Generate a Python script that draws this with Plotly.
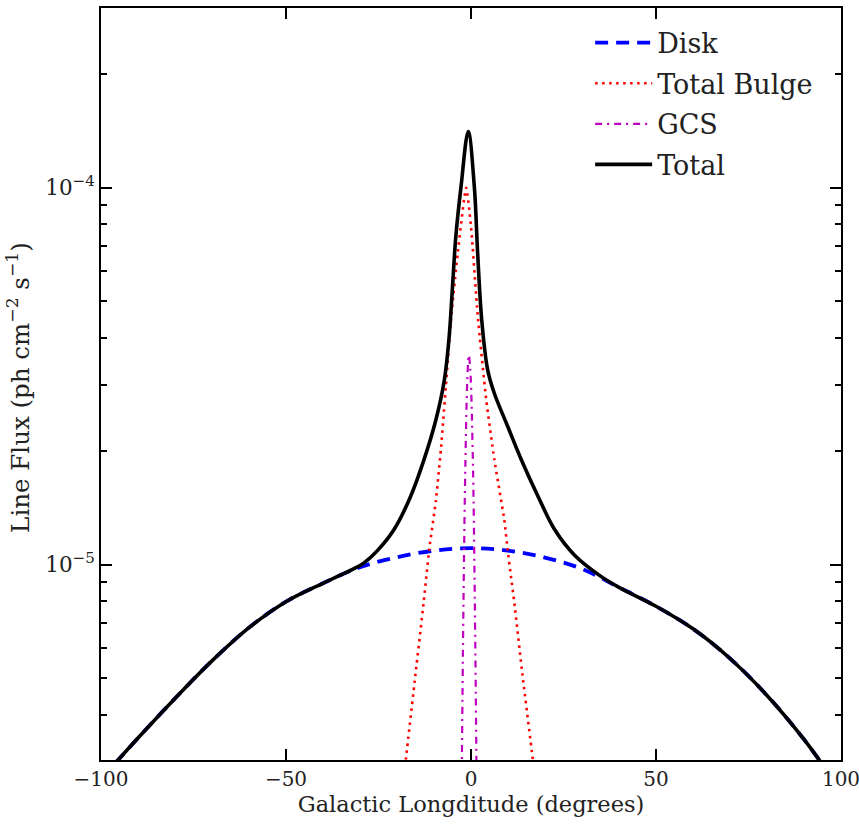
import plotly.graph_objects as go

# ---- data ----
disk_lon = [-100, -90, -80, -70, -60, -50, -40, -30, -20, -10, 0, 10, 20, 30, 40, 50, 60, 70, 80, 90, 100]
disk_flux = [2.70e-6, 3.47e-6, 4.42e-6, 5.56e-6, 6.81e-6, 7.98e-6, 8.93e-6, 9.85e-6, 1.047e-5, 1.09e-5,
             1.107e-5, 1.09e-5, 1.045e-5, 9.75e-6, 8.71e-6, 7.76e-6, 6.76e-6, 5.64e-6, 4.50e-6, 3.44e-6,
             2.51e-6]

bulge_lon = [-20, -17.6, -15.0, -12.8, -11.3, -9.5, -8.1, -6.8, -5.4, -3.6, -1.3, 0.0, 1.8, 4.1, 6.3,
             9.0, 9.9, 10.8, 11.7, 14.0, 16.7, 19.0]
bulge_flux = [1.905e-6, 3.05e-6, 5.13e-6, 7.94e-6, 1.096e-5, 1.48e-5, 2.04e-5, 2.97e-5, 4.46e-5, 6.70e-5,
              1.0e-4, 7.9e-5, 4.6e-5, 2.75e-5, 1.905e-5, 1.315e-5, 1.096e-5, 9.31e-6, 7.94e-6, 5.01e-6,
              3.05e-6, 1.905e-6]

gcs_lon = [-3.5, -3.0, -2.5, -2.0, -1.5, -1.0, -0.6, -0.2, 0.5, 1.0, 1.5, 2.0, 2.5]
gcs_flux = [1.1e-7, 6.5e-7, 2.75e-6, 8.5e-6, 1.9e-5, 3.09e-5, 3.6e-5, 3.3e-5, 1.9e-5, 8.5e-6,
            2.75e-6, 6.5e-7, 1.1e-7]

total_lon = [-100, -90, -80, -70, -60, -50, -40, -35, -32, -29.0, -25.3, -20.8, -16.3, -12.7, -9.5,
             -7.2, -5.9, -5.0, -4.1, -2.7, -0.75, 0.9, 1.8, 2.9, 4.5, 6.3, 9.9, 13.6, 18.1, 22.6, 28.0,
             35.2, 40, 50, 60, 70, 80, 90, 100]
total_flux = [2.70e-6, 3.47e-6, 4.42e-6, 5.56e-6, 6.81e-6, 7.98e-6, 8.93e-6, 9.42e-6, 9.72e-6, 1.01e-5,
              1.09e-5, 1.24e-5, 1.52e-5, 1.90e-5, 2.42e-5, 3.09e-5, 4.03e-5, 5.47e-5, 7.42e-5,
              1.006e-4, 1.41e-4, 1.006e-4, 6.7e-5, 4.46e-5, 3.29e-5, 2.85e-5, 2.33e-5, 1.90e-5, 1.52e-5,
              1.24e-5, 1.06e-5, 9.3e-6, 8.71e-6, 7.76e-6, 6.76e-6, 5.64e-6, 4.50e-6, 3.44e-6, 2.51e-6]

x_ticks = [-100, -50, 0, 50, 100]
x_tick_text = ["\u2212100", "\u221250", "0", "50", "100"]
y_ticks = [1e-5, 1e-4]
y_tick_text = ["10<sup>\u22125</sup>", "10<sup>\u22124</sup>"]
y_minor = [3e-6, 4e-6, 5e-6, 6e-6, 7e-6, 8e-6, 9e-6, 2e-5, 3e-5, 4e-5, 5e-5, 6e-5, 7e-5, 8e-5, 9e-5, 2e-4, 3e-4]

FONT = "DejaVu Serif"
TXT = "#222222"

fig = go.Figure()
fig.add_trace(go.Scatter(x=disk_lon, y=disk_flux, mode="lines", name="Disk", legendgroup="a",
                         line=dict(color="#0000ff", width=3.8, dash="13px,8px", shape="spline")))
fig.add_trace(go.Scatter(x=bulge_lon, y=bulge_flux, mode="lines", name="Total Bulge", legendgroup="b",
                         line=dict(color="#ff0000", width=2.6, dash="2.5px,4.5px", shape="spline",
                                   smoothing=0.5)))
fig.add_trace(go.Scatter(x=gcs_lon, y=gcs_flux, mode="lines", name="GCS", legendgroup="c",
                         line=dict(color="#bf00bf", width=2.2, dash="7px,5px,2px,5px", shape="spline")))
fig.add_trace(go.Scatter(x=total_lon, y=total_flux, mode="lines", name="Total", legendgroup="d",
                         line=dict(color="#000000", width=3.6, shape="spline", smoothing=1.0)))

axis_common = dict(showline=True, linecolor="black", linewidth=1.8, mirror="allticks",
                   ticks="inside", tickcolor="black", tickwidth=1.6, showgrid=False, zeroline=False,
                   ticklabeloverflow="allow", automargin=False)

fig.update_xaxes(range=[-100, 100], tickvals=x_ticks, ticktext=x_tick_text, ticklen=11,
                 tickfont=dict(family=FONT, size=20, color=TXT),
                 title=dict(text="Galactic Longditude (degrees)", font=dict(family=FONT, size=22.5, color=TXT),
                            standoff=4),
                 **axis_common)
fig.update_yaxes(type="log", range=[-5.518, -3.523], tickvals=y_ticks, ticktext=y_tick_text, ticklen=11,
                 tickfont=dict(family=FONT, size=21.5, color=TXT),
                 minor=dict(tickvals=y_minor, ticks="inside", ticklen=6, tickcolor="black", tickwidth=1.6),
                 **axis_common)

fig.add_annotation(text="Line Flux (ph cm<sup>\u22122</sup> s<sup>\u22121</sup>)",
                   xref="paper", yref="paper", x=-0.112, y=0.495, xanchor="center", yanchor="middle",
                   textangle=-90, showarrow=False, font=dict(family=FONT, size=24.5, color=TXT))

fig.update_layout(
    width=859, height=827,
    margin=dict(l=101, r=18, t=8, b=67),
    paper_bgcolor="white", plot_bgcolor="white",
    showlegend=True,
    legend=dict(x=0.661, y=0.986, xanchor="left", yanchor="top", bgcolor="rgba(0,0,0,0)",
                font=dict(family=FONT, size=27, color=TXT), tracegroupgap=2.5, itemwidth=57),
)

fig.write_html("out.html")
